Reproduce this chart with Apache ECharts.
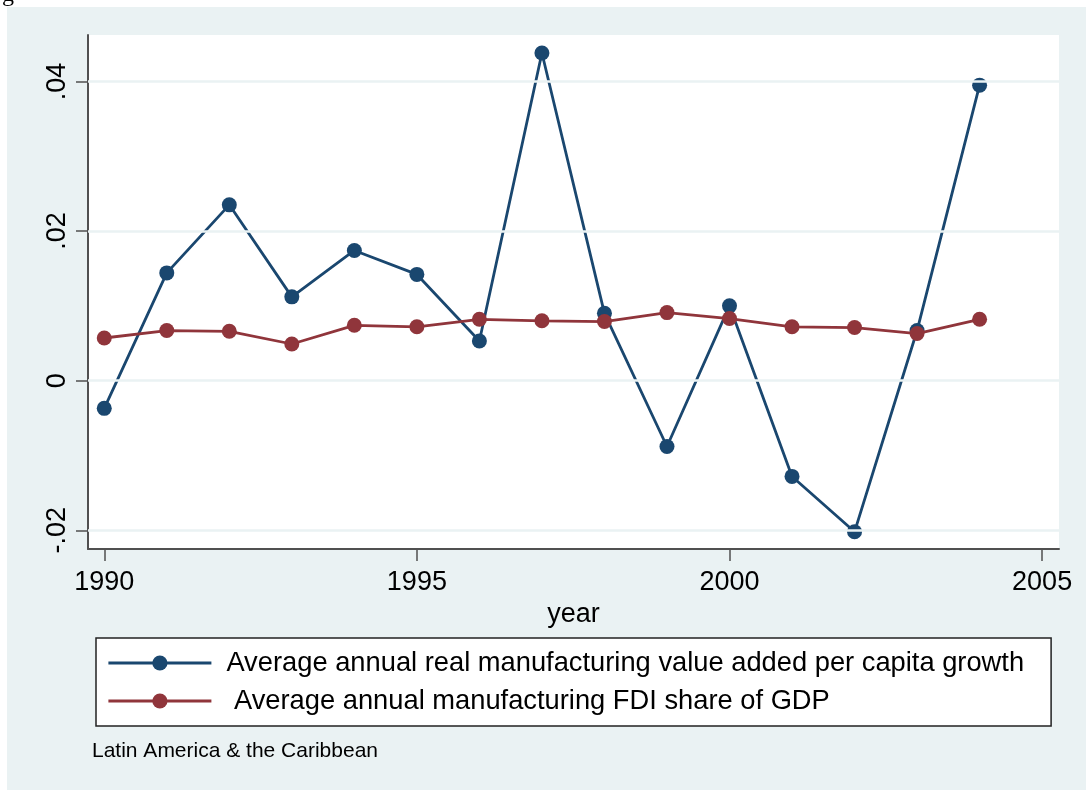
<!DOCTYPE html>
<html>
<head>
<meta charset="utf-8">
<script src="https://cdn.jsdelivr.net/npm/echarts@6/dist/echarts.min.js"></script>
<style>
  html, body { margin: 0; padding: 0; background: #fff; }
  #chart { width: 1086px; height: 790px; }
</style>
</head>
<body>
<div id="chart"></div>
<script>
// data
const years = [1990, 1991, 1992, 1993, 1994, 1995, 1996, 1997, 1998, 1999, 2000, 2001, 2002, 2003, 2004]
const mvaGrowth = [-0.0037, 0.0144, 0.0235, 0.0112, 0.0174, 0.0142, 0.0053, 0.0438, 0.0090, -0.0088, 0.0100, -0.0128, -0.0202, 0.0067, 0.0395]
const fdiShare = [0.0057, 0.0067, 0.0066, 0.0049, 0.0074, 0.0072, 0.0082, 0.0080, 0.0079, 0.0091, 0.0083, 0.0072, 0.0071, 0.0063, 0.0082]
const xTicks = [1990, 1995, 2000, 2005]
const yTicks = [-0.02, 0, 0.02, 0.04]
const yTickLabels = ['-.02', '0', '.02', '.04']
const seriesNames = ['Average annual real manufacturing value added per capita growth', ' Average annual manufacturing FDI share of GDP']

const font = "'Liberation Sans', Arial, sans-serif"
const blue = '#1a476f'
const red = '#90353b'
const gridCol = '#eaf2f3'
const axisCol = '#505050'

let chart = echarts.init(document.getElementById('chart'))

chart.setOption({
  backgroundColor: '#fff',
  animation: false,
  textStyle: { fontFamily: font },
  graphic: [
    // outer graph region
    { type: 'rect', left: 7, top: 7, z: -10, shape: { width: 1079, height: 783 }, style: { fill: gridCol } },
    // cut-off title above the graph
    { type: 'text', left: 2, top: -17, style: { text: 'g', font: "24px 'Liberation Serif', serif", fill: '#000' } },
    { type: 'text', left: 92, top: 741, style: { text: 'Latin America & the Caribbean', font: '21px ' + font, fill: '#000' } }
  ],
  grid: {
    left: 88, top: 35, right: 27, bottom: 241,
    show: true, backgroundColor: '#fff', borderWidth: 0
  },
  legend: {
    left: 96, top: 638,
    orient: 'vertical',
    itemWidth: 103, itemHeight: 19, itemGap: 8,
    padding: [10, 27, 10, 11],
    backgroundColor: '#fff',
    borderColor: '#222', borderWidth: 1.5, borderRadius: 0,
    lineStyle: { width: 2.8 },
    textStyle: { fontSize: 27.3, color: '#000', fontFamily: font, lineHeight: 30, padding: [0, 0, 0, 10] },
    data: seriesNames
  },
  xAxis: {
    type: 'value', min: 1989.74, max: 2005.27,
    name: 'year', nameLocation: 'middle', nameGap: 46,
    nameTextStyle: { fontSize: 27, color: '#000' },
    axisLine: { show: true, onZero: false, lineStyle: { color: axisCol, width: 2 } },
    axisTick: { show: true, customValues: xTicks, length: 12, lineStyle: { color: axisCol, width: 1.5 } },
    axisLabel: { customValues: xTicks, fontSize: 27, color: '#000', margin: 20, formatter: v => String(v) },
    splitLine: { show: false }
  },
  yAxis: {
    type: 'value', min: -0.0225, max: 0.0462,
    axisLine: { show: true, onZero: false, lineStyle: { color: axisCol, width: 2 } },
    axisTick: { show: true, customValues: yTicks, length: 12, lineStyle: { color: axisCol, width: 1.5 } },
    axisLabel: {
      customValues: yTicks, fontSize: 27, color: '#000', margin: 17, rotate: 90,
      formatter: v => yTickLabels[yTicks.findIndex(t => Math.abs(t - v) < 1e-9)]
    },
    splitLine: { show: false }
  },
  series: [
    {
      // gridlines at the y ticks
      type: 'line', data: [], silent: true, z: 1,
      markLine: {
        silent: true, symbol: 'none', label: { show: false },
        lineStyle: { color: gridCol, width: 2.5, type: 'solid' },
        data: yTicks.map(v => ({ yAxis: v }))
      }
    },
    {
      name: seriesNames[0], type: 'line', z: 3,
      data: years.map((y, i) => [y, mvaGrowth[i]]),
      symbol: 'circle', symbolSize: 15,
      lineStyle: { color: blue, width: 2.8 },
      itemStyle: { color: blue }
    },
    {
      name: seriesNames[1], type: 'line', z: 4,
      data: years.map((y, i) => [y, fdiShare[i]]),
      symbol: 'circle', symbolSize: 15,
      lineStyle: { color: red, width: 2.8 },
      itemStyle: { color: red }
    }
  ]
})
</script>
</body>
</html>
